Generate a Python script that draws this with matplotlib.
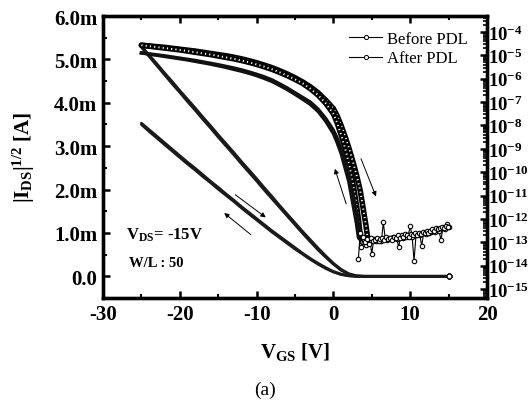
import numpy as np
import matplotlib.pyplot as plt
from matplotlib.lines import Line2D
from matplotlib.ticker import FixedLocator, FuncFormatter, LogLocator, NullFormatter

plt.rcParams['font.family'] = ['Liberation Serif', 'DejaVu Serif']
plt.rcParams['mathtext.fontset'] = 'custom'
plt.rcParams['mathtext.rm'] = 'Liberation Serif'
plt.rcParams['mathtext.bf'] = 'Liberation Serif:bold'
plt.rcParams['mathtext.it'] = 'Liberation Serif:italic'

# ---------------------------------------------------------------------------
#  data
# ---------------------------------------------------------------------------
# sqrt(|I_DS|) in units of m(A^1/2), left axis
vgs_sq = [-25, -24, -23, -22, -21, -20, -19, -18, -17, -16, -15, -14, -13, -12,
          -11, -10, -9, -8, -7, -6, -5, -4, -3, -2, -1, 0, 1, 2, 3, 4, 5, 6, 7,
          8, 9, 10, 11, 12, 13, 14, 15]
before_sq_fwd = [5.30, 5.10, 4.90, 4.69, 4.49, 4.28, 4.08, 3.88, 3.67, 3.47, 3.26,
                 3.06, 2.86, 2.65, 2.45, 2.25, 2.04, 1.84, 1.63, 1.43, 1.23, 1.03,
                 0.84, 0.65, 0.47, 0.30, 0.16, 0.06, 0.01, 0, 0, 0, 0, 0, 0, 0,
                 0, 0, 0, 0, 0]
before_sq_rev = [5.28, 5.07, 4.86, 4.65, 4.44, 4.24, 4.03, 3.83, 3.62, 3.42, 3.21,
                 3.01, 2.81, 2.60, 2.40, 2.20, 1.99, 1.79, 1.59, 1.39, 1.19, 0.99,
                 0.80, 0.61, 0.44, 0.28, 0.14, 0.05, 0.01, 0, 0, 0, 0, 0, 0, 0,
                 0, 0, 0, 0, 0]
after_sq_fwd = [3.53, 3.38, 3.23, 3.08, 2.93, 2.78, 2.63, 2.49, 2.34, 2.19, 2.05,
                1.90, 1.76, 1.61, 1.47, 1.33, 1.19, 1.05, 0.92, 0.79, 0.66, 0.53,
                0.41, 0.30, 0.20, 0.11, 0.05, 0.015, 0, 0, 0, 0, 0, 0, 0, 0, 0,
                0, 0, 0, 0]
after_sq_rev = [3.50, 3.34, 3.19, 3.04, 2.89, 2.74, 2.59, 2.45, 2.30, 2.16, 2.01,
                1.87, 1.73, 1.58, 1.44, 1.30, 1.16, 1.02, 0.89, 0.76, 0.63, 0.51,
                0.39, 0.28, 0.18, 0.10, 0.04, 0.01, 0, 0, 0, 0, 0, 0, 0, 0, 0,
                0, 0, 0, 0]

# log10(|I_DS|), right axis
vgs_log = [-25, -24, -23, -22, -21, -20, -19, -18, -17, -16, -15, -14, -13, -12,
           -11, -10, -9, -8, -7, -6, -5, -4, -3, -2, -1, 0, 0.5, 1, 1.5, 2, 2.5,
           3, 3.25, 3.5, 3.75, 4, 4.25, 4.5]
before_log_fwd = [-4.57, -4.60, -4.63, -4.66, -4.70, -4.74, -4.78, -4.82, -4.87,
                  -4.92, -4.97, -5.02, -5.08, -5.15, -5.23, -5.32, -5.42, -5.53,
                  -5.66, -5.80, -5.96, -6.14, -6.35, -6.60, -6.92, -7.28, -7.60,
                  -8.00, -8.45, -8.95, -9.50, -10.10, -10.45, -10.80, -11.30,
                  -11.80, -12.30, -12.90]
before_log_rev = [-4.57, -4.61, -4.65, -4.69, -4.73, -4.77, -4.82, -4.87, -4.92,
                  -4.97, -5.03, -5.09, -5.15, -5.22, -5.30, -5.39, -5.49, -5.60,
                  -5.73, -5.87, -6.03, -6.20, -6.43, -6.70, -7.05, -7.50, -7.90,
                  -8.40, -8.95, -9.60, -10.40, -11.40, -12.00, -12.70, -12.90,
                  -12.80, -12.95, -12.85]
after_log_fwd = [-4.90, -4.94, -4.98, -5.02, -5.07, -5.12, -5.17, -5.22, -5.28,
                 -5.34, -5.40, -5.47, -5.54, -5.62, -5.71, -5.81, -5.92, -6.05,
                 -6.22, -6.40, -6.60, -6.80, -7.00, -7.30, -7.70, -8.20, -8.55,
                 -9.00, -9.55, -10.10, -10.90, -11.70, -12.20, -12.80, -12.90,
                 -12.85, -12.90, -12.95]
after_log_rev = [-4.90, -4.95, -5.00, -5.05, -5.10, -5.15, -5.20, -5.26, -5.32,
                 -5.38, -5.45, -5.52, -5.60, -5.68, -5.77, -5.87, -5.99, -6.12,
                 -6.29, -6.47, -6.67, -6.88, -7.10, -7.40, -7.82, -8.35, -8.75,
                 -9.20, -9.80, -10.40, -11.30, -12.20, -12.80, -12.90, -12.85,
                 -12.90, -12.95, -12.90]

# off-current noise floor (log10 |I_DS|)
floor_v1 = [3.25, 3.5, 3.75, 4.0, 4.25, 4.5, 4.75, 5.0, 5.25, 5.5, 5.75, 6.0,
            6.25, 6.5, 6.75, 7.0, 7.25, 7.5, 7.75, 8.0, 8.25, 8.5, 8.75, 9.0,
            9.25, 9.5, 9.75, 10.0, 10.25, 10.5, 10.75, 11.0, 11.25, 11.5, 11.75,
            12.0, 12.25, 12.5, 12.75, 13.0, 13.25, 13.5, 13.75, 14.0, 14.25, 14.5,
            14.75, 15.0]
floor_l1 = [-13.7, -12.6, -13.0, -12.9, -13.1, -12.95, -12.9, -13.5, -12.85,
            -12.95, -12.9, -12.85, -12.95, -12.15, -12.85, -12.9, -12.8, -12.85,
            -12.75, -12.8, -12.85, -13.2, -12.75, -12.8, -12.7, -12.75, -12.7,
            -12.3, -12.75, -13.8, -12.7, -12.65, -12.7, -13.15, -12.6, -12.65,
            -12.55, -12.6, -12.55, -12.5, -12.55, -12.45, -12.5, -12.9, -12.4,
            -12.45, -12.2, -12.35]
floor_v2 = [3.625, 3.875, 4.125, 4.375, 4.625, 4.875, 5.125, 5.375, 5.625, 5.875,
            6.125, 6.375, 6.625, 6.875, 7.125, 7.375, 7.625, 7.875, 8.125, 8.375,
            8.625, 8.875, 9.125, 9.375, 9.625, 9.875, 10.125, 10.375, 10.625,
            10.875, 11.125, 11.375, 11.625, 11.875, 12.125, 12.375, 12.625,
            12.875, 13.125, 13.375, 13.625, 13.875, 14.125, 14.375, 14.625, 14.875]
floor_l2 = [-13.2, -12.75, -13.0, -12.85, -13.05, -12.8, -12.95, -12.9, -12.8,
            -12.95, -12.85, -12.8, -12.9, -12.75, -12.85, -12.8, -12.9, -12.75,
            -12.8, -12.7, -12.8, -12.7, -12.75, -12.65, -12.7, -12.75, -12.65,
            -12.7, -12.6, -12.7, -12.6, -12.65, -12.55, -12.6, -12.5, -12.6,
            -12.5, -12.45, -12.5, -12.4, -12.45, -12.4, -12.35, -12.4, -12.3,
            -12.35]

series_labels = ['Before PDL', 'After PDL']

# ---------------------------------------------------------------------------
#  figure
# ---------------------------------------------------------------------------
fig = plt.figure(figsize=(5.30, 4.02), dpi=100)
ax = fig.add_axes([0.1943, 0.2562, 0.7246, 0.7015])
ax2 = ax.twinx()

# left axis: sqrt(I)
for ys in (before_sq_fwd, before_sq_rev, after_sq_fwd, after_sq_rev):
    ax.plot(vgs_sq, ys, color='#1a1a1a', lw=2.0, solid_capstyle='round')
    ax.plot(vgs_sq[-1:], ys[-1:], 'o', ms=3.5, mfc='white', mec='k', mew=0.8)

# right axis: log(I)
for ls in (before_log_fwd, before_log_rev):
    ii = 10.0 ** np.array(ls)
    ax2.plot(vgs_log, ii, color='k', lw=4.0, solid_capstyle='round')
    ax2.plot(vgs_log, ii, color='white', lw=1.4, ls=(0, (0.6, 1.6)))
for ls in (after_log_fwd, after_log_rev):
    ax2.plot(vgs_log, 10.0 ** np.array(ls), color='#111111', lw=2.4)
for fv, fl in ((floor_v1, floor_l1), (floor_v2, floor_l2)):
    ax2.plot(fv, 10.0 ** np.array(fl), color='k', lw=0.8, marker='o', ms=3.2,
             mfc='white', mec='k', mew=0.8)

# axes ranges and ticks
ax.set_xlim(-30, 20)
ax.set_ylim(-0.5, 6.0)
ax2.set_yscale('log')
ax2.set_ylim(10 ** -15.38, 10 ** -3.32)

ax.set_xticks([-30, -20, -10, 0, 10, 20])
ax.set_xticks([-25, -15, -5, 5, 15], minor=True)
ax.set_yticks([0, 1, 2, 3, 4, 5, 6])
ax.set_yticks([-0.5, 0.5, 1.5, 2.5, 3.5, 4.5, 5.5], minor=True)
ax.yaxis.set_major_formatter(FuncFormatter(lambda v, p: '0.0' if v == 0 else f'{v:.1f}m'))
ax.xaxis.set_major_formatter(FuncFormatter(lambda v, p: f'{v:.0f}'))
for lab in ax.get_xticklabels() + ax.get_yticklabels():
    lab.set_fontweight('bold')
ax.tick_params(which='both', direction='in', labelsize=15, top=True)
ax.tick_params(which='major', length=5, width=1.8, pad=4)
ax.tick_params(which='minor', length=3, width=1.5)

ax2.yaxis.set_major_locator(FixedLocator([10.0 ** -k for k in range(4, 16)]))
ax2.yaxis.set_minor_locator(LogLocator(base=10, subs=np.arange(2, 10), numticks=30))
ax2.yaxis.set_minor_formatter(NullFormatter())
ax2.yaxis.set_major_formatter(FuncFormatter(
    lambda v, p: r'$\mathbf{10^{%d}}$' % round(np.log10(v))))
ax2.tick_params(which='both', direction='in', labelsize=13.5)
ax2.tick_params(which='major', length=5, width=1.8, pad=1)
ax2.tick_params(which='minor', length=3, width=1.2)

for a in (ax, ax2):
    for sp in a.spines.values():
        sp.set_linewidth(2.4)

ax.set_xlabel(r'$\mathbf{V_{GS}}$ [V]', fontsize=15, fontweight='bold', labelpad=12)
ax.set_ylabel(r'$\mathbf{|I_{DS}|^{1/2}}$ [A]', fontsize=15, fontweight='bold', labelpad=12)

ax.text(-27.0, 0.97, r'$\mathbf{V_{DS}}$= -15V', fontsize=12, fontweight='bold',
        va='center', ha='left')
ax.text(-26.6, 0.32, 'W/L : 50', fontsize=10.5, fontweight='bold', va='center', ha='left')

# sweep direction arrows
arrow = dict(arrowstyle='-|>', color='k', lw=0.7, mutation_scale=7)
ax.annotate('', xy=(0.08, 2.54), xytext=(1.77, 1.61), arrowprops=arrow)
ax.annotate('', xy=(5.68, 1.78), xytext=(3.46, 2.77), arrowprops=arrow)
ax.annotate('', xy=(-8.52, 1.32), xytext=(-13.07, 1.92), arrowprops=arrow)
ax.annotate('', xy=(-14.5, 1.50), xytext=(-10.47, 0.92), arrowprops=arrow)

handles = [Line2D([], [], color='k', lw=0.8, marker='o', ms=3, mfc='white',
                  mec='k', mew=0.7) for _ in series_labels]
ax.legend(handles, series_labels, loc='upper right', frameon=False, fontsize=12,
          handlelength=2.0, handletextpad=0.3, labelspacing=0.2,
          bbox_to_anchor=(0.99, 1.0))

fig.text(0.5, 0.03, '(a)', fontsize=14, ha='center', va='center')

fig.savefig('out.png', dpi=100)
